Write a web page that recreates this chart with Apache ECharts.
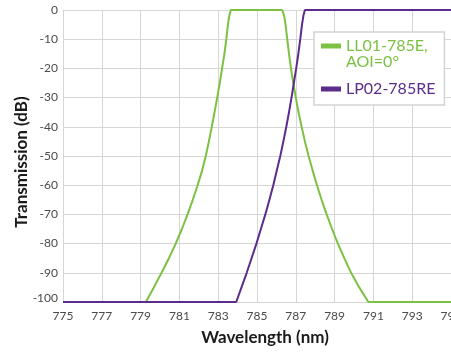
<!DOCTYPE html>
<html>
<head>
<meta charset="utf-8">
<script src="https://cdn.jsdelivr.net/npm/echarts@6/dist/echarts.min.js"></script>
<style>
html,body{margin:0;padding:0;background:#fff;}
#chart{width:451px;height:352px;}
</style>
</head>
<body>
<div id="chart"></div>
<script>
// ---- data ----
var seriesNames = ['LL01-785E,\nAOI=0°', 'LP02-785RE'];
var greenX = [775, 779.27, 779.68, 780.08, 780.46, 780.81, 781.13, 781.42, 781.69, 781.94, 782.17, 782.36, 782.52, 782.67, 782.81, 782.95, 783.08, 783.20, 783.32, 783.42, 783.50, 783.57, 783.65,
              786.30, 786.40, 786.47, 786.56, 786.65, 786.75, 786.87, 787.00, 787.14, 787.30, 787.47, 787.66, 787.87, 788.09, 788.33, 788.59, 788.87, 789.17, 789.50, 789.85, 790.27, 790.74, 795];
var greenY = [-100, -100, -95, -90, -85, -80, -75, -70, -65, -60, -55, -50, -45, -40, -35, -30, -25, -20, -15, -10, -5, -2, 0,
              0, -2, -5, -10, -15, -20, -25, -30, -35, -40, -45, -50, -55, -60, -65, -70, -75, -80, -85, -90, -95, -100, -100];
var purpleX = [775, 783.93, 784.20, 784.47, 784.72, 784.97, 785.20, 785.43, 785.64, 785.84, 786.02, 786.20, 786.36, 786.51, 786.65, 786.78, 786.90, 787.02, 787.13, 787.23, 787.32, 787.39, 787.47, 795];
var purpleY = [-100, -100, -95, -90, -85, -80, -75, -70, -65, -60, -55, -50, -45, -40, -35, -30, -25, -20, -15, -10, -5, -2, 0, 0];
var xTicks = [775, 777, 779, 781, 783, 785, 787, 789, 791, 793, 795];
var yTicks = [0, -10, -20, -30, -40, -50, -60, -70, -80, -90, -100];

function pairs(xs, ys) { return xs.map(function (x, i) { return [x, ys[i]]; }); }

var GREEN = '#7cc142';
var PURPLE = '#5b2c8c';
var GRID = '#d6d6d6';

var chart = echarts.init(document.getElementById('chart'), null, {renderer: 'canvas'});
chart.setOption({
  animation: false,
  backgroundColor: '#ffffff',
  textStyle: {fontFamily: 'Lato'},
  grid: {left: 63, right: 0, top: 10, bottom: 50, containLabel: false, outerBoundsMode: 'none'},
  legend: {
    orient: 'vertical',
    left: 314, top: 32,
    padding: [6, 9, 0, 7],
    itemWidth: 20, itemHeight: 32, itemGap: 3,
    backgroundColor: '#ffffff',
    borderColor: '#d4d4d4', borderWidth: 1.5,
    itemStyle: {borderWidth: 0},
    textStyle: {fontFamily: 'Lato', fontSize: 16, lineHeight: 16},
    data: [
      {name: seriesNames[0], icon: 'path://M0,0L0,0M0,32L0,32M0,5.5H20V10.5H0Z', textStyle: {color: GREEN}},
      {name: seriesNames[1], icon: 'path://M0,0L0,0M0,32L0,32M0,13.5H20V18.5H0Z', textStyle: {color: PURPLE}}
    ]
  },
  xAxis: {
    type: 'value', min: xTicks[0], max: xTicks[xTicks.length - 1], interval: 2,
    name: 'Wavelength (nm)', nameLocation: 'middle', nameGap: 27, nameMoveOverlap: false,
    nameTextStyle: {fontFamily: 'Lato', fontWeight: 'bold', fontSize: 17, color: '#1a1a1a', padding: [0, 0, 0, 16]},
    axisLine: {show: true, lineStyle: {color: GRID, width: 1}},
    axisTick: {show: false},
    axisLabel: {margin: 8, fontSize: 12, color: '#4a4a4a', fontFamily: 'Lato'},
    splitLine: {show: true, lineStyle: {color: GRID, width: 1}}
  },
  yAxis: {
    type: 'value', min: yTicks[yTicks.length - 1], max: yTicks[0], interval: 10,
    name: 'Transmission (dB)', nameLocation: 'middle', nameGap: 33, nameMoveOverlap: false,
    nameTextStyle: {fontFamily: 'Lato', fontWeight: 'bold', fontSize: 17, color: '#1a1a1a', padding: [0, 12, 0, 0]},
    axisLine: {show: true, lineStyle: {color: GRID, width: 1}},
    axisTick: {show: false},
    axisLabel: {
      margin: 5, fontSize: 12, color: '#4a4a4a', fontFamily: 'Lato',
      formatter: function (v) { return v === -100 ? '{low|-100}' : String(v); },
      rich: {low: {fontSize: 12, color: '#4a4a4a', fontFamily: 'Lato', padding: [0, 0, 8, 0]}}
    },
    splitLine: {show: true, lineStyle: {color: GRID, width: 1}}
  },
  series: [
    {
      name: seriesNames[0], type: 'line', data: pairs(greenX, greenY),
      symbol: 'none', smooth: false, clip: false,
      color: GREEN, lineStyle: {color: GREEN, width: 2}
    },
    {
      name: seriesNames[1], type: 'line', data: pairs(purpleX, purpleY),
      symbol: 'none', smooth: false, clip: false,
      color: PURPLE, lineStyle: {color: PURPLE, width: 2}
    }
  ]
});
</script>
</body>
</html>
